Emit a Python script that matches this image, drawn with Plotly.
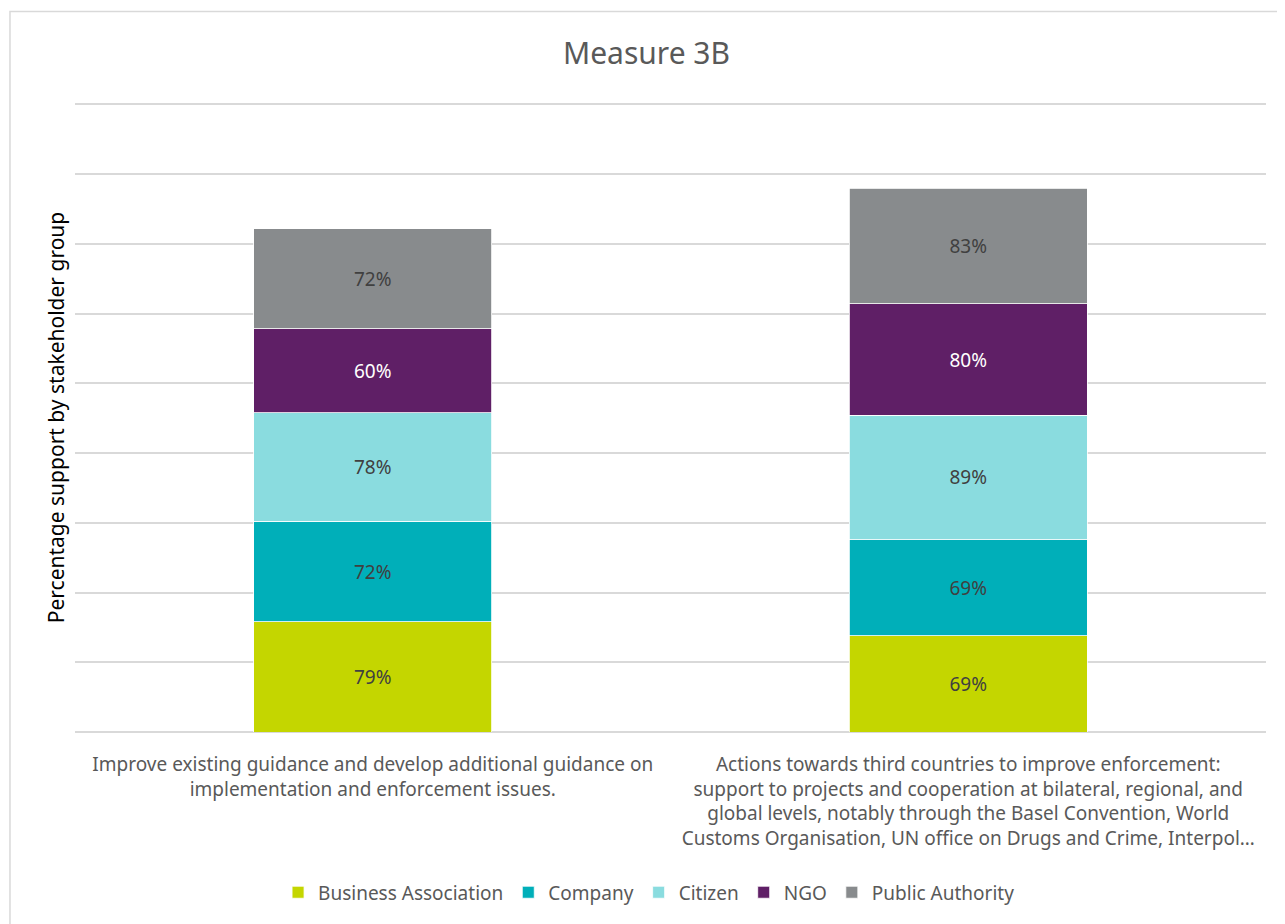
import plotly.graph_objects as go

categories = [
    "Improve existing guidance and develop additional guidance on<br>implementation and enforcement issues.",
    "Actions towards third countries to improve enforcement:<br>support to projects and cooperation at bilateral, regional, and<br>global levels, notably through the Basel Convention, World<br>Customs Organisation, UN office on Drugs and Crime, Interpol…",
]
groups = ["Business Association", "Company", "Citizen", "NGO", "Public Authority"]
business = [79, 69]
company = [72, 69]
citizen = [78, 89]
ngo = [60, 80]
public_auth = [72, 83]

series = [business, company, citizen, ngo, public_auth]
colors = ["#C4D600", "#00AFB9", "#8ADCDF", "#5F1F66", "#888B8D"]
text_colors = ["#404040", "#404040", "#404040", "#FFFFFF", "#404040"]

fig = go.Figure()
for name, vals, col, tc in zip(groups, series, colors, text_colors):
    fig.add_trace(go.Bar(
        x=categories, y=vals, name=name,
        marker=dict(color=col, line=dict(color="#FFFFFF", width=0.8)),
        text=[f"{v}%" for v in vals], textposition="inside",
        insidetextanchor="middle",
        textfont=dict(color=tc, size=19),
        width=0.4,
    ))

# page has an 8px body margin, so the figure is shifted by 8px
fig.update_layout(
    barmode="stack",
    width=1277, height=916,
    margin=dict(l=67, r=19, t=95, b=188),
    paper_bgcolor="white", plot_bgcolor="white",
    font=dict(family="Noto Sans, Open Sans, sans-serif", color="#595959"),
    title=dict(text="Measure 3B", x=0.5, xanchor="center", y=0.95, yanchor="middle",
               font=dict(size=30, color="#595959")),
    showlegend=True,
    legend=dict(orientation="h", x=0.482, xanchor="center", y=-0.255, yanchor="middle",
                font=dict(size=19, color="#595959"), traceorder="normal",
                itemclick=False),
    uniformtext=dict(minsize=10, mode="show"),
)
fig.update_yaxes(range=[0, 451], dtick=50, showticklabels=False, showgrid=True,
                 gridcolor="#D9D9D9", gridwidth=1.5, zeroline=True, zerolinecolor="#D9D9D9",
                 zerolinewidth=1.5, automargin=False,
                 title=dict(text="Percentage support by stakeholder group",
                            font=dict(size=21, color="#000000"), standoff=3))
fig.update_xaxes(tickfont=dict(size=19, color="#595959"), showline=False, ticks="",
                 automargin=False, ticklabelstandoff=19)

fig.add_shape(type="rect", xref="paper", yref="paper",
              x0=-0.0546, x1=1.03, y0=-0.32, y1=1.1456,
              line=dict(color="#D9D9D9", width=1.5), fillcolor="rgba(0,0,0,0)", layer="below")

fig.write_html("out.html")
